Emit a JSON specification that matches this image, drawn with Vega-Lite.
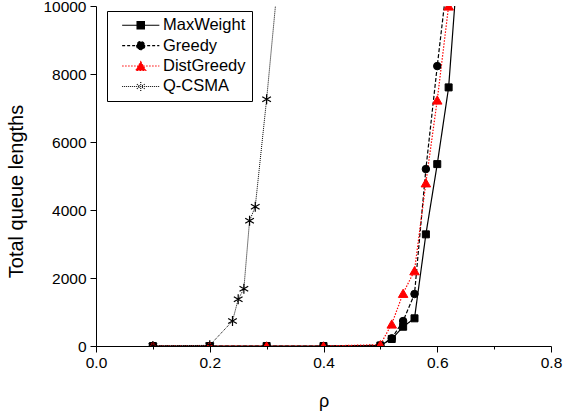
{
  "$schema": "https://vega.github.io/schema/vega-lite/v6.json",
  "width": 455,
  "height": 340,
  "autosize": {"type": "none"},
  "padding": {"left": 96, "top": 6, "right": 13, "bottom": 68},
  "background": "white",
  "config": {
    "view": {"stroke": null},
    "axis": {
      "grid": false,
      "domainColor": "black",
      "tickColor": "black",
      "labelColor": "black",
      "titleColor": "black",
      "labelFont": "Liberation Sans",
      "titleFont": "Liberation Sans",
      "labelFontSize": 15.5,
      "titleFontWeight": "normal",
      "domainWidth": 1,
      "tickWidth": 1,
      "labelFlush": false,
      "labelOverlap": false
    }
  },
  "data": {
    "values": [
      {"series": "MaxWeight", "rho": 0.1, "q": 0},
      {"series": "MaxWeight", "rho": 0.2, "q": 0},
      {"series": "MaxWeight", "rho": 0.3, "q": 0},
      {"series": "MaxWeight", "rho": 0.4, "q": 0},
      {"series": "MaxWeight", "rho": 0.5, "q": 15},
      {"series": "MaxWeight", "rho": 0.52, "q": 206},
      {"series": "MaxWeight", "rho": 0.54, "q": 567},
      {"series": "MaxWeight", "rho": 0.56, "q": 814},
      {"series": "MaxWeight", "rho": 0.58, "q": 3284},
      {"series": "MaxWeight", "rho": 0.6, "q": 5350},
      {"series": "MaxWeight", "rho": 0.62, "q": 7606},
      {"series": "MaxWeight", "rho": 0.64, "q": 12100},
      {"series": "Greedy", "rho": 0.1, "q": 0},
      {"series": "Greedy", "rho": 0.2, "q": 0},
      {"series": "Greedy", "rho": 0.3, "q": 0},
      {"series": "Greedy", "rho": 0.4, "q": 0},
      {"series": "Greedy", "rho": 0.5, "q": 20},
      {"series": "Greedy", "rho": 0.52, "q": 226},
      {"series": "Greedy", "rho": 0.54, "q": 735},
      {"series": "Greedy", "rho": 0.56, "q": 1529},
      {"series": "Greedy", "rho": 0.58, "q": 5204},
      {"series": "Greedy", "rho": 0.6, "q": 8232},
      {"series": "Greedy", "rho": 0.62, "q": 11100},
      {"series": "DistGreedy", "rho": 0.1, "q": 0},
      {"series": "DistGreedy", "rho": 0.2, "q": 0},
      {"series": "DistGreedy", "rho": 0.3, "q": 0},
      {"series": "DistGreedy", "rho": 0.4, "q": 0},
      {"series": "DistGreedy", "rho": 0.5, "q": 40},
      {"series": "DistGreedy", "rho": 0.52, "q": 647},
      {"series": "DistGreedy", "rho": 0.54, "q": 1550},
      {"series": "DistGreedy", "rho": 0.56, "q": 2215},
      {"series": "DistGreedy", "rho": 0.58, "q": 4800},
      {"series": "DistGreedy", "rho": 0.6, "q": 7235},
      {"series": "DistGreedy", "rho": 0.62, "q": 10000},
      {"series": "Q-CSMA", "rho": 0.1, "q": 0},
      {"series": "Q-CSMA", "rho": 0.2, "q": 20},
      {"series": "Q-CSMA", "rho": 0.24, "q": 735},
      {"series": "Q-CSMA", "rho": 0.25, "q": 1373},
      {"series": "Q-CSMA", "rho": 0.26, "q": 1685},
      {"series": "Q-CSMA", "rho": 0.27, "q": 3685},
      {"series": "Q-CSMA", "rho": 0.28, "q": 4097},
      {"series": "Q-CSMA", "rho": 0.3, "q": 7256},
      {"series": "Q-CSMA", "rho": 0.32, "q": 10800}
    ]
  },
  "layer": [
    {
      "mark": {"type": "line", "clip": true},
      "encoding": {
        "x": {
          "field": "rho", "type": "quantitative",
          "scale": {"domain": [0, 0.8], "nice": false},
          "axis": {
            "values": [0, 0.1, 0.2, 0.3, 0.4, 0.5, 0.6, 0.7, 0.8],
            "labelExpr": "round(datum.value*10) % 2 === 0 ? format(datum.value, '.1f') : ''",
            "tickSize": {"condition": {"test": "round(datum.value*10) % 2 === 1", "value": 3}, "value": 6},
            "labelPadding": 3,
            "title": "ρ",
            "titleFontSize": 18,
            "titleBaseline": "alphabetic",
            "titleY": 60
          }
        },
        "y": {
          "field": "q", "type": "quantitative",
          "scale": {"domain": [0, 10000], "nice": false},
          "axis": {
            "values": [0, 1000, 2000, 3000, 4000, 5000, 6000, 7000, 8000, 9000, 10000],
            "labelExpr": "datum.value % 2000 === 0 ? format(datum.value, 'd') : ''",
            "tickSize": {"condition": {"test": "datum.value % 2000 !== 0", "value": 3}, "value": 6},
            "labelPadding": 4,
            "title": "Total queue lengths",
            "titleFontSize": 20,
            "titleX": -70,
            "titleY": 185
          }
        },
        "detail": {"field": "series", "type": "nominal"},
        "color": {"condition": {"test": "datum.series === 'DistGreedy'", "value": "red"}, "value": "black"},
        "strokeDash": {
          "condition": [
            {"test": "datum.series === 'MaxWeight'", "value": [1, 0]},
            {"test": "datum.series === 'Greedy'", "value": [4, 2]},
            {"test": "datum.series === 'DistGreedy'", "value": [1.5, 1.5]}
          ],
          "value": [1, 1]
        },
        "strokeWidth": {
          "condition": {"test": "datum.series === 'Q-CSMA'", "value": 1},
          "value": 1.2
        }
      }
    },
    {
      "mark": {"type": "point", "clip": true, "filled": true, "opacity": 1},
      "encoding": {
        "x": {"field": "rho", "type": "quantitative"},
        "y": {"field": "q", "type": "quantitative"},
        "color": {"condition": {"test": "datum.series === 'DistGreedy'", "value": "red"}, "value": "black"},
        "stroke": {"condition": {"test": "datum.series === 'DistGreedy'", "value": "red"}, "value": "black"},
        "strokeWidth": {"condition": {"test": "datum.series === 'Q-CSMA'", "value": 1.2}, "value": 1},
        "shape": {
          "condition": [
            {"test": "datum.series === 'MaxWeight'", "value": "square"},
            {"test": "datum.series === 'Greedy'", "value": "circle"},
            {"test": "datum.series === 'DistGreedy'", "value": "triangle-up"}
          ],
          "value": "M0,-1L0,1M-0.87,-0.5L0.87,0.5M-0.87,0.5L0.87,-0.5"
        },
        "size": {
          "condition": [
            {"test": "datum.series === 'MaxWeight'", "value": 49},
            {"test": "datum.series === 'Greedy'", "value": 56},
            {"test": "datum.series === 'DistGreedy'", "value": 90}
          ],
          "value": 100
        }
      }
    },
    {
      "transform": [{"filter": "false"}],
      "mark": {"type": "point", "filled": true, "opacity": 1},
      "encoding": {
        "x": {"field": "rho", "type": "quantitative"},
        "y": {"field": "q", "type": "quantitative"},
        "shape": {
          "field": "series", "type": "nominal", "title": null,
          "scale": {
            "domain": ["MaxWeight", "Greedy", "DistGreedy", "Q-CSMA"],
            "range": [
              "M-3.1,0L3.1,0M-0.62,-0.62L0.62,-0.62L0.62,0.62L-0.62,0.62Z",
              "M-3.1,0L3.1,0M0.68,0A0.68,0.68,0,1,1,-0.68,0A0.68,0.68,0,1,1,0.68,0Z",
              "M-3.1,0L3.1,0M0,-0.74L0.85,0.74L-0.85,0.74Z",
              "M-3.1,0L3.1,0M0,-0.75L0,0.75M-0.65,-0.375L0.65,0.375M-0.65,0.375L0.65,-0.375"
            ]
          },
          "legend": {
            "orient": "none",
            "legendX": 11,
            "legendY": 5,
            "title": null,
            "strokeColor": "black",
            "fillColor": "white",
            "padding": 6,
            "labelFont": "Liberation Sans",
            "labelFontSize": 16.5,
            "labelColor": "black",
            "symbolSize": 144,
            "symbolOffset": 19.5,
            "labelOffset": 14,
            "rowPadding": 3.4,
            "symbolStrokeWidth": 1.1,
            "symbolOpacity": 1
          }
        },
        "fill": {
          "field": "series", "type": "nominal", "title": null,
          "scale": {"domain": ["MaxWeight", "Greedy", "DistGreedy", "Q-CSMA"], "range": ["black", "black", "red", "transparent"]}
        },
        "stroke": {
          "field": "series", "type": "nominal", "title": null,
          "scale": {"domain": ["MaxWeight", "Greedy", "DistGreedy", "Q-CSMA"], "range": ["black", "black", "red", "black"]}
        },
        "strokeDash": {
          "field": "series", "type": "nominal", "title": null,
          "scale": {"domain": ["MaxWeight", "Greedy", "DistGreedy", "Q-CSMA"], "range": [[1, 0], [3, 2], [1.5, 1.5], [1, 1]]}
        }
      }
    }
  ]
}
